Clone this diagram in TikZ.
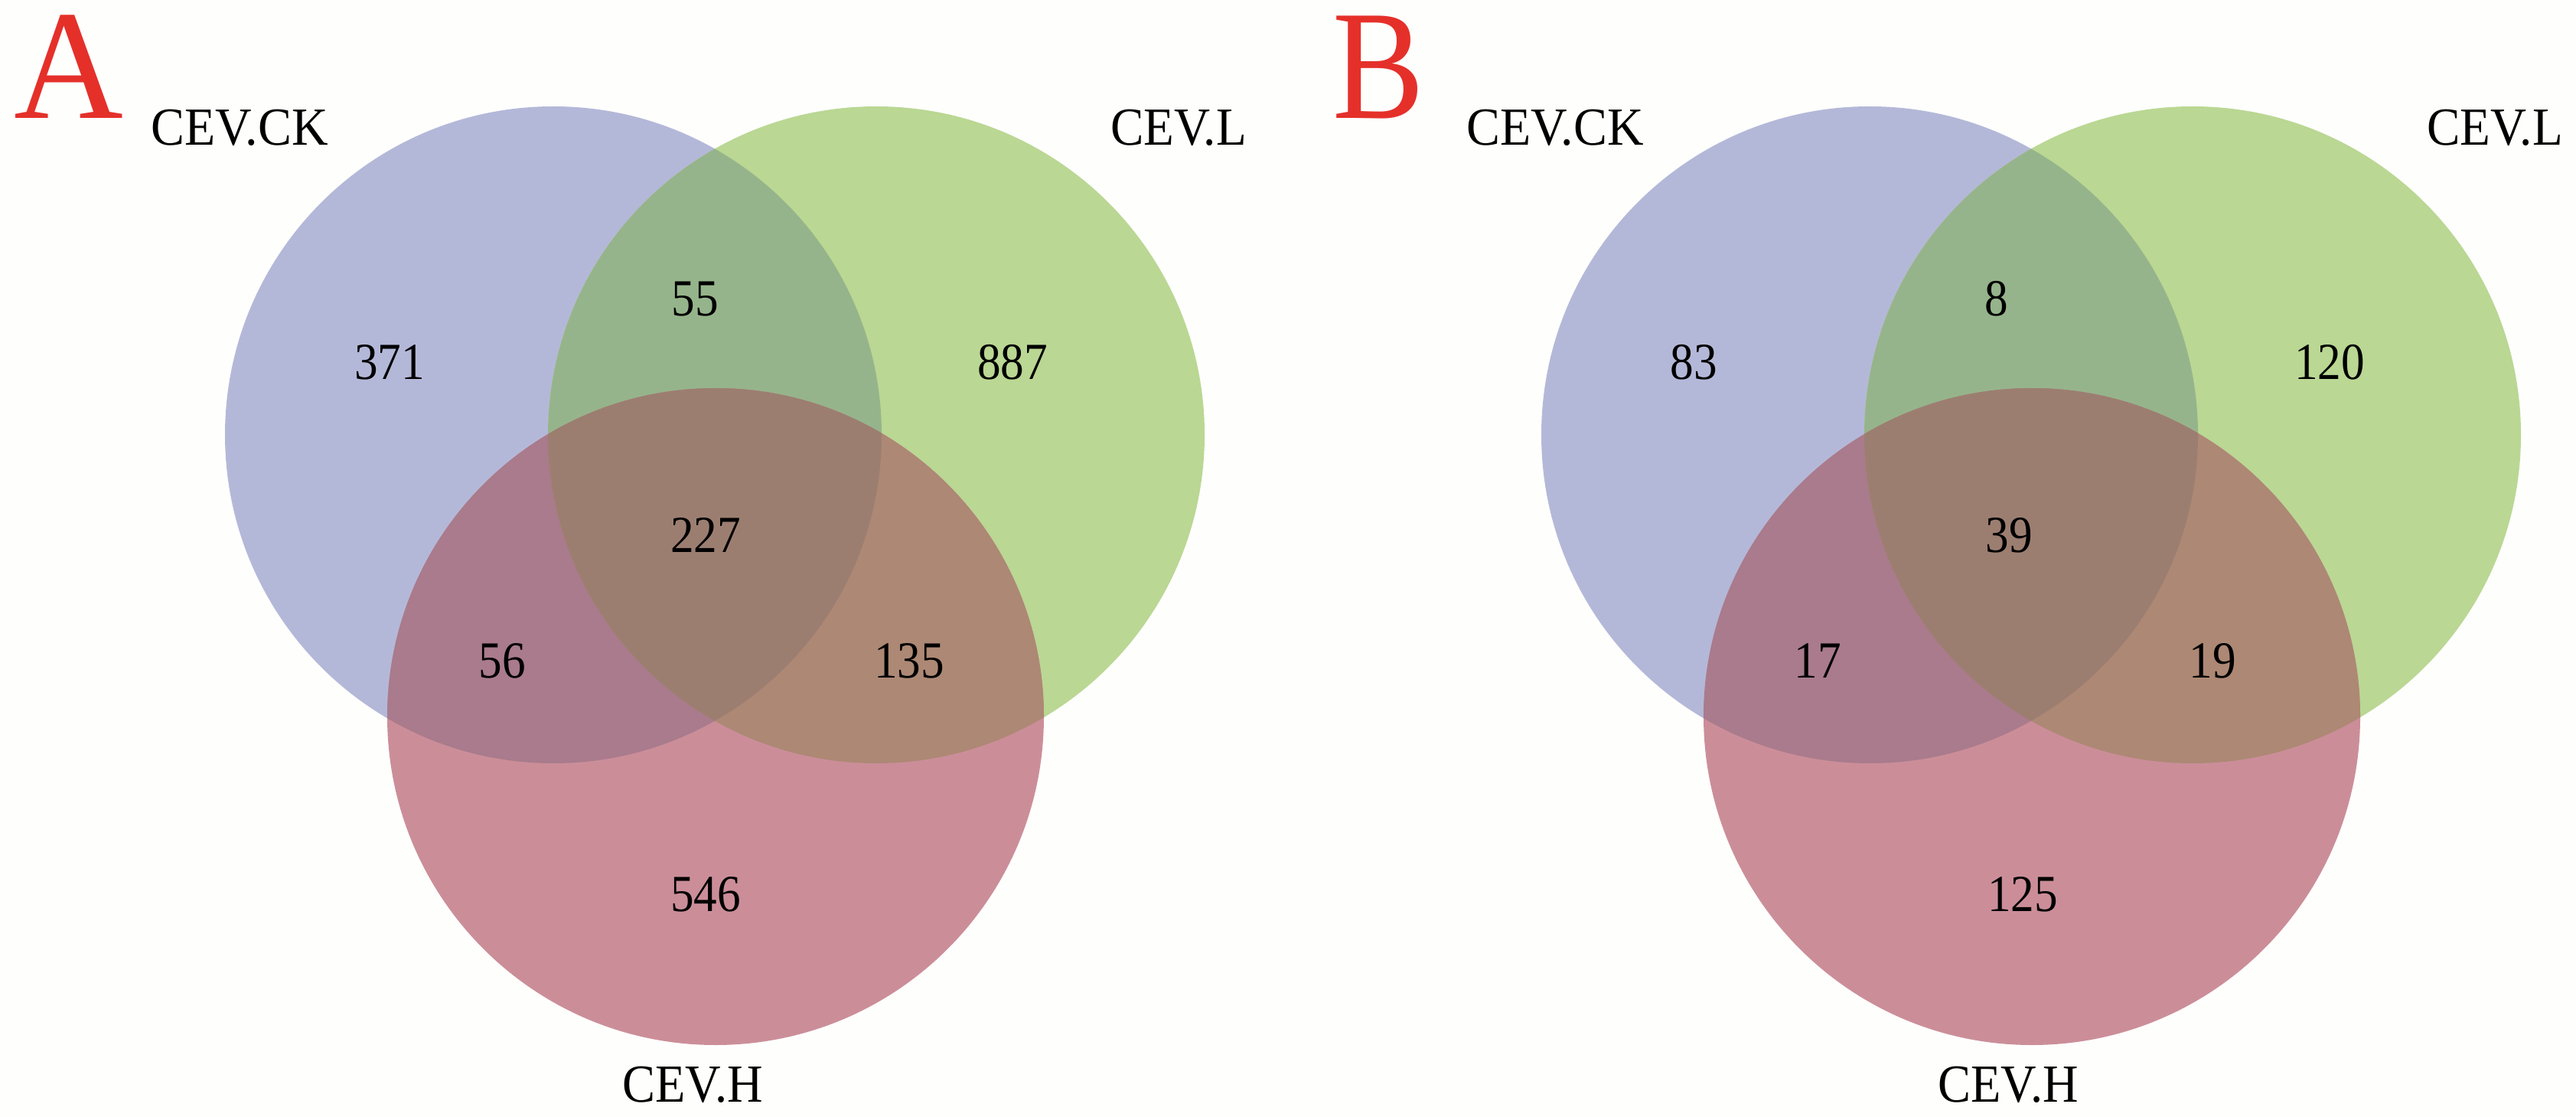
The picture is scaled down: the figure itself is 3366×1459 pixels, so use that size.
\documentclass[tikz,border=0pt]{standalone}
\usepackage{fontspec}
\setmainfont{Liberation Serif}
\definecolor{bgwhite}{RGB}{254,254,253}
\definecolor{panelred}{RGB}{229,48,42}
\definecolor{cCK}{RGB}{180,184,216}
\definecolor{cL}{RGB}{186,215,147}
\definecolor{cH}{RGB}{203,142,153}
\definecolor{cCKL}{RGB}{150,180,139}
\definecolor{cCKH}{RGB}{169,123,140}
\definecolor{cLH}{RGB}{173,136,117}
\definecolor{cALL}{RGB}{156,126,113}
\newcommand\condtxt[2]{\scalebox{#1}[1]{#2}}
\begin{document}
\begin{tikzpicture}[x=0.5pt,y=-0.5pt,
  lbl/.style={inner sep=0, anchor=base, font=\fontsize{35}{40}\selectfont},
  num/.style={inner sep=0, anchor=base, font=\fontsize{34}{40}\selectfont},
  panel/.style={inner sep=0, anchor=base west, text=panelred, font=\fontsize{102}{110}\selectfont}]
\fill[bgwhite] (0,0) rectangle (3366,1459);
\useasboundingbox (0,0) rectangle (3366,1459);
\def\R{429}
% centres
\coordinate (ckA) at (723,568);
\coordinate (lA) at (1145,568);
\coordinate (hA) at (935,936);
\coordinate (ckB) at (2443,568);
\coordinate (lB) at (2865,568);
\coordinate (hB) at (2655,936);
\foreach \p in {A,B}{
  \fill[cCK] (ck\p) circle[radius=\R];
  \fill[cL] (l\p) circle[radius=\R];
  \fill[cH] (h\p) circle[radius=\R];
  \begin{scope}
    \clip (ck\p) circle[radius=\R];
    \fill[cCKL] (l\p) circle[radius=\R];
    \fill[cCKH] (h\p) circle[radius=\R];
  \end{scope}
  \begin{scope}
    \clip (l\p) circle[radius=\R];
    \fill[cLH] (h\p) circle[radius=\R];
  \end{scope}
  \begin{scope}
    \clip (ck\p) circle[radius=\R];
    \clip (l\p) circle[radius=\R];
    \fill[cALL] (h\p) circle[radius=\R];
  \end{scope}
}
% panel letters
\node[panel] (pA) at (18,155) {\condtxt{0.97}{A}};
\node[panel] (pB) at (1741,155) {\condtxt{0.88}{B}};
% set labels
\node[lbl] (ckAlbl) at (313,190) {\condtxt{0.94}{CEV.CK}};
\node[lbl] (lAlbl) at (1540,190) {\condtxt{0.93}{CEV.L}};
\node[lbl] (hAlbl) at (905,1439) {\condtxt{0.92}{CEV.H}};
\node[lbl] (ckBlbl) at (2032,190) {\condtxt{0.94}{CEV.CK}};
\node[lbl] (lBlbl) at (3260,190) {\condtxt{0.93}{CEV.L}};
\node[lbl] (hBlbl) at (2624,1439) {\condtxt{0.92}{CEV.H}};
% counts A
\node[num] (a1) at (509,496) {\condtxt{0.9}{371}};
\node[num] (a2) at (908,413) {\condtxt{0.9}{55}};
\node[num] (a3) at (1323,496) {\condtxt{0.9}{887}};
\node[num] (a4) at (922,721) {\condtxt{0.9}{227}};
\node[num] (a5) at (656,885) {\condtxt{0.9}{56}};
\node[num] (a6) at (1188,885) {\condtxt{0.9}{135}};
\node[num] (a7) at (922,1190) {\condtxt{0.9}{546}};
% counts B
\node[num] (b1) at (2213,496) {\condtxt{0.9}{83}};
\node[num] (b2) at (2609,413) {\condtxt{0.9}{8}};
\node[num] (b3) at (3044,496) {\condtxt{0.9}{120}};
\node[num] (b4) at (2625,721) {\condtxt{0.9}{39}};
\node[num] (b5) at (2375,885) {\condtxt{0.9}{17}};
\node[num] (b6) at (2891,885) {\condtxt{0.9}{19}};
\node[num] (b7) at (2643,1190) {\condtxt{0.9}{125}};
\end{tikzpicture}
\end{document}
